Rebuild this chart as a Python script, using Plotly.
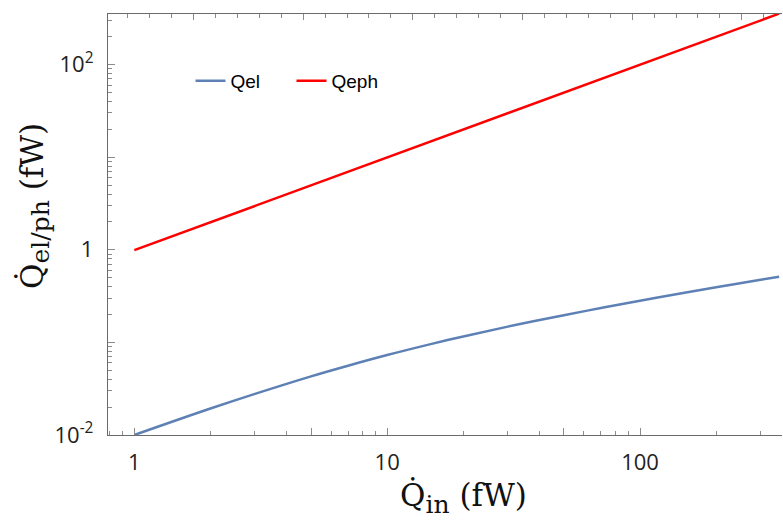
import plotly.graph_objects as go

# Data
q_in = [1, 2, 3, 5, 7, 10, 15, 20, 30, 50, 70, 100, 150, 200, 300, 355]
q_el = [0.0100, 0.0193, 0.0278, 0.0430, 0.0560, 0.0730, 0.0964, 0.1159,
        0.1479, 0.1968, 0.2350, 0.2818, 0.3436, 0.3936, 0.4742, 0.5117]
q_eph = [0.99, 1.98, 2.97, 4.96, 6.94, 9.93, 14.9, 19.9, 29.85, 49.8,
         69.76, 99.7, 149.7, 199.6, 299.5, 354.5]

x_major = [1, 5, 10, 50, 100]
x_major_text = ["1", "", "10", "", "100"]
x_minor = [0.8, 0.9, 2, 3, 4, 6, 7, 8, 9, 20, 30, 40, 60, 70, 80, 90, 200, 300]
y_major = [0.01, 0.1, 1, 10, 100]
y_major_text = ["10<sup>-2</sup>", "", "1", "", "10<sup>2</sup>"]
y_minor = [0.02, 0.03, 0.04, 0.05, 0.06, 0.07, 0.08, 0.09,
           0.2, 0.3, 0.4, 0.5, 0.6, 0.7, 0.8, 0.9,
           2, 3, 4, 5, 6, 7, 8, 9, 20, 30, 40, 50, 60, 70, 80, 90, 200, 300]

x_title = "Q\u0307<sub><span style=\"font-size:25px\">in</span></sub> (fW)"
y_title = "Q\u0307<sub><span style=\"font-size:25px\">el/ph</span></sub> (fW)"

BLUE = "#5E81B5"
RED = "#FF0000"
AX = "#6b6b6b"
TK = "#8a8a8a"

fig = go.Figure()
fig.add_trace(go.Scatter(x=q_in, y=q_el, name="Qel", mode="lines",
                         line=dict(color=BLUE, width=2.5, shape="spline")))
fig.add_trace(go.Scatter(x=q_in, y=q_eph, name="Qeph", mode="lines",
                         line=dict(color=RED, width=2.5)))
# dummy trace so the top (frame) axis is drawn
fig.add_trace(go.Scatter(x=[None], y=[None], xaxis="x2", showlegend=False,
                         hoverinfo="skip", mode="lines"))

tickfont = dict(family="Open Sans", size=22, color="#222222")
titlefont = dict(family="DejaVu Serif", size=31, color="#111111")

fig.update_layout(
    width=783, height=520,
    margin=dict(l=108, r=1, t=14, b=85),
    paper_bgcolor="white", plot_bgcolor="white",
    showlegend=True,
    legend=dict(orientation="h", x=0.1224, y=0.841, xanchor="left", yanchor="middle",
                font=dict(family="Liberation Sans, Arial", size=19, color="black"),
                bgcolor="rgba(0,0,0,0)", itemwidth=30,
                entrywidth=56, entrywidthmode="pixels"),
    xaxis=dict(type="log", range=[-0.1041, 2.5616], automargin=False,
               showline=True, linecolor=AX, linewidth=1.3,
               showgrid=False, zeroline=False,
               ticks="inside", ticklen=7, tickwidth=1.3, tickcolor=TK,
               tickmode="array", tickvals=x_major, ticktext=x_major_text,
               tickfont=tickfont, ticklabelstandoff=7,
               minor=dict(tickmode="array", tickvals=x_minor, ticks="inside",
                          ticklen=3.5, tickwidth=1.2, tickcolor=TK, showgrid=False)),
    xaxis2=dict(overlaying="x", side="top", anchor="y", range=[-0.899, 29.83],
                automargin=False,
                showline=True, linecolor=AX, linewidth=1.3,
                showgrid=False, zeroline=False, showticklabels=False,
                ticks="inside", tick0=3, dtick=5, ticklen=6, tickwidth=1.3, tickcolor=TK,
                minor=dict(dtick=1, ticks="inside", ticklen=3.5, tickwidth=1.2,
                           tickcolor=TK, showgrid=False)),
    yaxis=dict(type="log", range=[-2, 2.546], automargin=False,
               showline=True, linecolor=AX, linewidth=1.3,
               showgrid=False, zeroline=False,
               ticks="inside", ticklen=7, tickwidth=1.3, tickcolor=TK,
               tickmode="array", tickvals=y_major, ticktext=y_major_text,
               tickfont=tickfont, ticklabelstandoff=9,
               minor=dict(tickmode="array", tickvals=y_minor, ticks="inside",
                          ticklen=3.5, tickwidth=1.2, tickcolor=TK, showgrid=False)),
    annotations=[
        dict(text=x_title, xref="paper", yref="paper", x=0.527, y=-0.15,
             xanchor="center", yanchor="middle", showarrow=False, font=titlefont),
        dict(text=y_title, xref="paper", yref="paper", x=-0.1084, y=0.544,
             xanchor="center", yanchor="middle", showarrow=False, font=titlefont,
             textangle=-90),
    ],
)

fig.write_html("out.html")
